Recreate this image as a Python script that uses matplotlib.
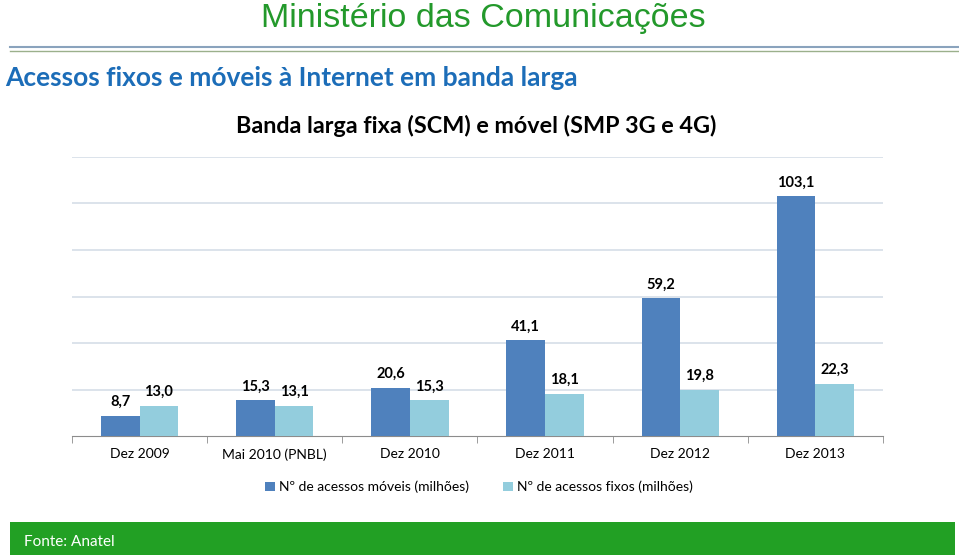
import numpy as np
import matplotlib
matplotlib.use('Agg')
from matplotlib import pyplot as plt
from matplotlib.patches import Rectangle
from matplotlib.lines import Line2D

categories = ['Dez 2009', 'Mai 2010 (PNBL)', 'Dez 2010', 'Dez 2011', 'Dez 2012', 'Dez 2013']
moveis = [8.7, 15.3, 20.6, 41.1, 59.2, 103.1]
fixos = [13.0, 13.1, 15.3, 18.1, 19.8, 22.3]
moveis_label = 'Nº de acessos móveis (milhões)'
fixos_label = 'Nº de acessos fixos (milhões)'

W, H = 959, 555
fig = plt.figure(figsize=(W / 100, H / 100), dpi=100)
fig.patch.set_facecolor('white')

# header
fig.text(483 / W, 1 - 19 / H, 'Ministério das Comunicações', ha='center', va='center',
         fontsize=24.5, color='#23992b', family='Liberation Sans')
fig.add_artist(Line2D([10 / W, 1], [1 - 46.5 / H] * 2, color='#8aa3bd', lw=1.5))
fig.add_artist(Line2D([10 / W, 1], [1 - 51 / H] * 2, color='#9bb08c', lw=1.0))
fig.text(5 / W, 1 - 78 / H, 'Acessos fixos e móveis à Internet em banda larga', ha='left', va='center',
         fontsize=19, color='#1c6db8', family='Lato', fontweight='bold')
fig.text(476 / W, 1 - 126 / H, 'Banda larga fixa (SCM) e móvel (SMP 3G e 4G)', ha='center', va='center',
         fontsize=16.8, color='black', family='Lato', fontweight='bold')

# chart
ax = fig.add_axes([72 / W, (H - 436) / H, (883 - 72) / W, (436 - 157) / H])
x = np.arange(len(categories))
bw = 0.286
b1 = ax.bar(x - bw / 2, moveis, bw, color='#4f81bd', label=moveis_label, zorder=3)
b2 = ax.bar(x + bw / 2, fixos, bw, color='#93cddd', label=fixos_label, zorder=3)

for bars, vals in [(b1, moveis), (b2, fixos)]:
    for r, v in zip(bars, vals):
        ax.annotate(('%.1f' % v).replace('.', ','), (r.get_x() + r.get_width() / 2, v),
                    xytext=(0, 5), textcoords='offset points', ha='center', va='bottom',
                    fontsize=10.5, fontweight='bold', family='Lato', color='black')

ax.set_xlim(-0.5, len(categories) - 0.5)
ax.set_ylim(0, 120)
ax.set_yticks(np.arange(20, 121, 20))
ax.yaxis.grid(True, color='#d5dee8', lw=1.2, zorder=0)
ax.tick_params(axis='y', length=0, labelleft=False)
ax.set_xticks(x)
ax.set_xticklabels(categories, family='Lato', fontsize=10)
ax.set_xticks(np.arange(-0.5, len(categories), 1), minor=True)
ax.tick_params(axis='x', which='major', length=0, pad=9)
ax.tick_params(axis='x', which='minor', length=5, color='#8c8c8c')
for s in ['top', 'right', 'left']:
    ax.spines[s].set_visible(False)
ax.spines['bottom'].set_color('#8c8c8c')
ax.set_facecolor('white')

fig.legend(handles=[b1, b2], labels=[moveis_label, fixos_label], loc='center',
           bbox_to_anchor=(479 / W, 1 - 487 / H), ncol=2, frameon=False,
           prop={'family': 'Lato', 'size': 10}, handlelength=0.7, handleheight=0.7,
           handletextpad=0.3, columnspacing=2.5)

# footer
fig.add_artist(Rectangle((10 / W, 0), (955 - 10) / W, (H - 522) / H, transform=fig.transFigure,
                         color='#22a024', lw=0))
fig.text(24 / W, 1 - 542 / H, 'Fonte: Anatel', ha='left', va='center',
         fontsize=11, color='white', family='Lato')

plt.savefig('out.png', dpi=100)
